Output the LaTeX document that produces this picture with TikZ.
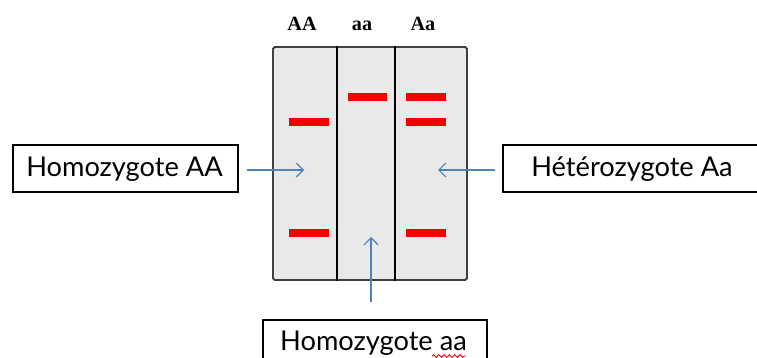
\documentclass[tikz,border=0pt]{standalone}
\usepackage{fontspec}
\setmainfont{Lato}
\newfontfamily\lanefont{Liberation Serif}
\usetikzlibrary{arrows.meta,decorations.pathmorphing}
\definecolor{arrowblue}{RGB}{79,129,189}
\definecolor{gelgray}{RGB}{233,233,233}
\definecolor{geledge}{RGB}{64,64,64}
\definecolor{bandred}{RGB}{245,0,0}
\tikzset{
  gelbox/.style={draw=geledge, fill=gelgray, line width=1.1pt, rounded corners=1pt, inner sep=0pt},
  divider/.style={draw=black, line width=0.9pt},
  band/.style={draw=bandred, line width=4pt},
  lanelabel/.style={font=\lanefont\bfseries\fontsize{11.5}{13}\selectfont, inner sep=0pt, anchor=base},
  labelbox/.style={draw=black, line width=0.8pt, fill=white, inner sep=0pt},
  labeltext/.style={font=\fontsize{15.5}{19}\selectfont, inner sep=0pt, anchor=base},
  pointer/.style={draw=arrowblue, line width=0.7pt, -{Straight Barb[length=4pt,width=8pt]}},
  spellmark/.style={draw=red, line width=0.5pt, decorate,
    decoration={snake, segment length=3pt, amplitude=0.8pt}}
}
\begin{document}
\begin{tikzpicture}[x=0.02cm, y=-0.02cm]
\useasboundingbox (0,0) rectangle (757,358);
\clip (0,0) rectangle (757,358);

% gel with three lanes
\node[gelbox, minimum width=3.88cm, minimum height=4.66cm] (gel) at (370,163.5) {};
\coordinate (d1) at (337,0);
\coordinate (d2) at (395,0);
\draw[divider] (d1 |- gel.north) -- (d1 |- gel.south);
\draw[divider] (d2 |- gel.north) -- (d2 |- gel.south);

% lane headings
\node[lanelabel] (lAA) at (302,31) {AA};
\node[lanelabel] (laa) at (362,31) {aa};
\node[lanelabel] (lAa) at (423,31) {Aa};

% bands
\draw[band] (289,122) -- (329,122);
\draw[band] (289,233) -- (329,233);
\draw[band] (348,97) -- (387,97);
\draw[band] (406,97) -- (446,97);
\draw[band] (406,122) -- (446,122);
\draw[band] (406,233) -- (446,233);

% genotype labels
\node[labelbox, minimum width=4.5cm, minimum height=0.94cm] (homAA) at (125.5,168.5) {};
\node[labeltext] (homAAt) at (124.5,176) {Homozygote AA};

\node[labelbox, minimum width=5.18cm, minimum height=0.94cm] (het) at (632.5,168.5) {};
\node[labeltext] (hett) at (632,176) {Hétérozygote Aa};

\node[labelbox, minimum width=4.48cm, minimum height=1.4cm] (homaa) at (375,355) {};
\node[labeltext] (homaat) at (373.5,350) {Homozygote aa};
\coordinate (sqa) at (432,356);
\coordinate (sqb) at (466,356);
\draw[spellmark] (sqa) -- (sqb);

% pointers into the lanes
\coordinate (pAAs) at (247,170);
\coordinate (pAAe) at (304,170);
\draw[pointer] (pAAs) -- (pAAe);
\coordinate (pAas) at (495,170);
\coordinate (pAae) at (438,170);
\draw[pointer] (pAas) -- (pAae);
\coordinate (paas) at (371,302);
\coordinate (paae) at (371,237);
\draw[pointer] (paas) -- (paae);
\end{tikzpicture}
\end{document}
